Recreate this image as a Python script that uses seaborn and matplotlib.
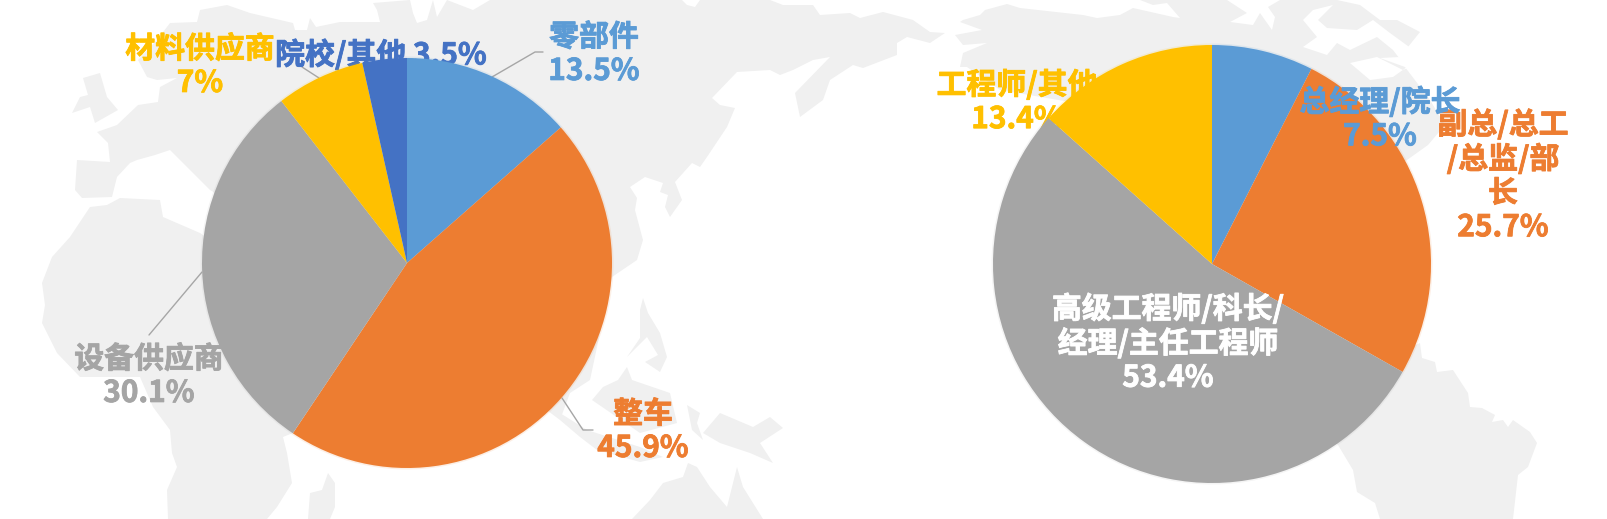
import matplotlib
matplotlib.use("Agg")
import matplotlib.pyplot as plt
import matplotlib.patheffects as pe
import seaborn as sns
from matplotlib.patches import Polygon

# left pie: who the respondents work for
company_labels = ["零部件", "整车", "设备供应商", "材料供应商", "院校/其他"]
company_values = [13.5, 45.9, 30.1, 7, 3.5]
company_texts = ["零部件\n13.5%", "整车\n45.9%", "设备供应商\n30.1%", "材料供应商\n7%", "院校/其他 3.5%"]

# right pie: job titles
title_labels = ["总经理/院长", "副总/总工/总监/部长", "高级工程师/科长/经理/主任工程师", "工程师/其他"]
title_values = [7.5, 25.7, 53.4, 13.4]
title_texts = ["总经理/院长\n7.5%", "副总/总工\n/总监/部\n长\n25.7%", "高级工程师/科长/\n经理/主任工程师\n53.4%", "工程师/其他\n13.4%"]

W, H = 1608, 519
BLUE, ORANGE, GREY, YELLOW, NAVY = sns.color_palette(["#5B9BD5", "#ED7D31", "#A5A5A5", "#FFC000", "#4472C4"])
MAP_GREY = "#F0F0F0"

sns.set_theme(style="white")
plt.rcParams['font.family'] = ['Noto Sans CJK SC', 'DejaVu Sans']

fig = plt.figure(figsize=(W / 100, H / 100), dpi=100)
ax = fig.add_axes([0, 0, 1, 1])


def px(x, y):
    return x, H - y


# background world map, traced roughly in image pixels
eurasia = [(75, 190), (77, 160), (110, 162), (108, 143), (97, 132), (117, 125), (138, 105), (158, 102), (160, 87),
           (177, 78), (157, 80), (147, 77), (138, 60), (157, 40), (170, 23), (197, 22), (200, 10), (227, 5), (250, 13),
           (293, 23), (295, 30), (307, 30), (310, 18), (316, 27), (340, 22), (380, 22), (377, 10), (373, 3), (410, 0),
           (413, 13), (417, 23), (427, 20), (433, 0), (437, 17), (447, 0), (473, 10), (490, 0), (682, 0), (687, 5),
           (695, 7), (700, 0), (770, 0), (783, 5), (813, 5), (820, 15), (850, 13), (860, 18), (883, 12), (913, 20),
           (930, 32), (945, 33), (930, 43), (907, 37), (897, 43), (897, 55), (863, 68), (853, 65), (830, 80),
           (823, 100), (800, 117), (795, 93), (830, 57), (813, 60), (793, 70), (780, 75), (770, 70), (737, 72),
           (712, 98), (720, 105), (735, 108), (727, 127), (707, 157), (700, 167), (692, 163), (675, 182), (682, 200),
           (670, 217), (665, 207), (668, 195), (660, 192), (663, 183), (645, 177), (630, 187), (637, 198), (635, 210),
           (643, 240), (637, 260), (612, 277), (590, 380), (570, 393), (560, 420), (400, 300), (210, 190), (200, 180),
           (170, 150), (155, 155), (137, 160), (130, 163), (117, 177), (112, 197), (82, 198)]
uk = [(72, 113), (80, 97), (88, 95), (83, 78), (100, 73), (107, 97), (118, 110), (95, 123), (90, 107)]
africa = [(52, 257), (70, 237), (90, 207), (107, 205), (120, 198), (160, 200), (163, 217), (200, 233), (300, 300),
          (293, 433), (283, 437), (287, 453), (292, 483), (277, 507), (267, 519), (168, 519), (167, 490), (177, 467),
          (172, 453), (170, 430), (153, 407), (140, 377), (107, 377), (80, 377), (57, 353), (42, 323), (45, 305),
          (42, 283)]
madagascar = [(328, 473), (335, 483), (335, 507), (330, 519), (308, 519), (310, 493), (322, 490)]
philippines = [(643, 298), (648, 313), (660, 333), (667, 357), (660, 372), (645, 362), (658, 355), (647, 337),
               (627, 357), (640, 338), (640, 310)]
borneo = [(627, 367), (632, 380), (670, 393), (677, 423), (640, 433), (592, 400), (603, 387), (618, 380)]
sumatra = [(560, 420), (580, 437), (597, 450), (640, 462), (663, 457), (640, 447), (587, 430), (560, 413)]
sulawesi = [(687, 405), (700, 413), (697, 423), (703, 440), (692, 430)]
new_guinea = [(703, 433), (720, 413), (753, 427), (770, 417), (783, 428), (760, 443), (773, 463), (750, 453),
              (720, 443)]
australia = [(632, 519), (650, 500), (663, 483), (683, 477), (688, 463), (697, 467), (710, 487), (727, 507),
             (737, 467), (743, 487), (763, 519)]
north_america = [(963, 20), (980, 15), (985, 10), (1007, 4), (1020, 8), (1083, 15), (1097, 18), (1120, 15), (1133, 8),
                 (1173, 17), (1180, 18), (1167, 3), (1153, 5), (1140, 0), (1227, 0), (1247, 13), (1230, 22), (1253, 25),
                 (1260, 13), (1272, 30), (1275, 17), (1268, 7), (1280, 0), (1337, 0), (1360, 5), (1380, 20), (1397, 20),
                 (1420, 32), (1400, 57), (1380, 58), (1405, 67), (1430, 100), (1445, 125), (1428, 145), (1400, 165),
                 (1350, 150), (1000, 90), (967, 67), (960, 67), (963, 53), (987, 43), (963, 45), (955, 35), (982, 30),
                 (960, 22)]
south_america = [(1420, 343), (1422, 358), (1435, 362), (1437, 372), (1453, 370), (1468, 393), (1470, 407), (1482, 408),
                 (1495, 415), (1492, 422), (1503, 420), (1508, 427), (1513, 420), (1530, 432), (1537, 443), (1528, 467),
                 (1518, 475), (1513, 519), (1380, 519), (1375, 503), (1357, 492), (1353, 470), (1338, 445), (1300, 400)]
land = [eurasia, uk, africa, madagascar, philippines, borneo, sumatra, sulawesi, new_guinea, australia,
        north_america, south_america]
# bays cut back out of north america
hudson = [(1303, 20), (1317, 37), (1303, 47), (1327, 55), (1337, 43), (1350, 50), (1377, 37), (1393, 50), (1403, 63),
          (1423, 57), (1390, 33), (1373, 20), (1357, 30), (1327, 28), (1318, 20), (1333, 5), (1313, 10)]
baffin = [(1350, 63), (1370, 80), (1393, 77), (1407, 67), (1427, 87), (1440, 77), (1440, 57), (1420, 63), (1403, 70),
          (1377, 57)]

for shape in land:
    ax.add_patch(Polygon([px(x, y) for x, y in shape], closed=True, fc=MAP_GREY, ec="none", zorder=1))
for shape in [hudson, baffin]:
    ax.add_patch(Polygon([px(x, y) for x, y in shape], closed=True, fc="white", ec="none", zorder=1.5))

# faint halo first, then the pies
for values, colors, center, radius in [(company_values, [BLUE, ORANGE, GREY, YELLOW, NAVY], (407, 263), 205),
                                       (title_values, [BLUE, ORANGE, GREY, YELLOW], (1212, 264), 219)]:
    ax.pie(values, colors=colors, startangle=90, counterclock=False, center=px(*center), radius=radius + 1.5,
           frame=True, wedgeprops={"zorder": 2.5, "linewidth": 0, "alpha": 0.12})
    ax.pie(values, colors=colors, startangle=90, counterclock=False, center=px(*center), radius=radius,
           frame=True, wedgeprops={"zorder": 3, "linewidth": 0})

ax.set_xlim(0, W)
ax.set_ylim(0, H)
ax.set_aspect("equal")
ax.axis("off")

# leader lines
leaders = [[(492, 77), (535, 52), (543, 52)], [(562, 398), (583, 430), (593, 430)],
           [(202, 272), (149, 335)], [(319, 78), (302, 67)]]
for line in leaders:
    xs, ys = zip(*[px(x, y) for x, y in line])
    ax.plot(xs, ys, color="#A6A6A6", lw=1, zorder=2)


# labels, some of them sit under the pie in the original
def label(x, y, text, color, zorder):
    t = ax.text(*px(x, y), text, color=color, zorder=zorder, fontsize=21.5, fontweight="bold",
                ha="center", va="center", linespacing=1.16)
    t.set_path_effects([pe.withStroke(linewidth=0.6, foreground=color)])


left_pos = [(594, 54), (643, 431), (149, 376), (200, 66), (381, 55)]
for text, (x, y), c in zip(company_texts, left_pos, [BLUE, ORANGE, GREY, YELLOW, NAVY]):
    label(x, y, text, c, 2)

label(1017, 102, title_texts[3], YELLOW, 2)
label(1380, 119, title_texts[0], BLUE, 5)
label(1503, 176, title_texts[1], ORANGE, 4)
label(1168, 343, title_texts[2], "white", 5)

fig.savefig("out.png", dpi=100, facecolor="white")
